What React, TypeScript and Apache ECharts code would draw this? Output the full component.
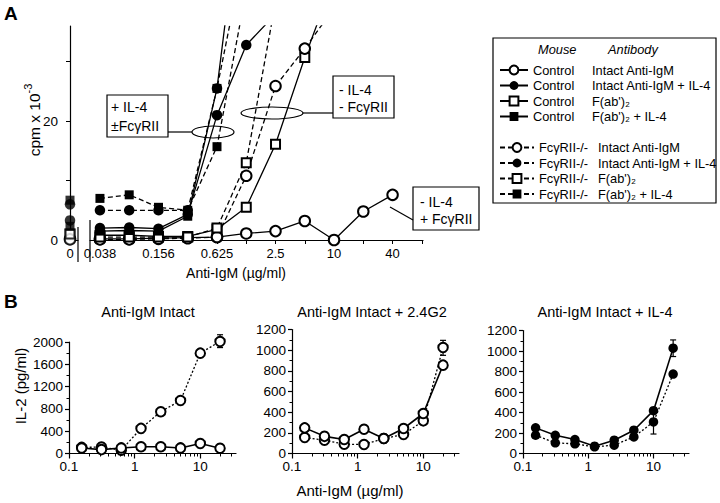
import { useEffect, useRef } from 'react';
import * as echarts from 'echarts';

const FONT = '"Liberation Sans", Arial, Helvetica, "DejaVu Sans", sans-serif';

// ---------------- Panel A data ----------------
const concA = ['0.039', '0.078', '0.156', '0.3125', '0.625', '1.25', '2.5', '5', '10', '20', '40'];
const concAIndex = [0, 1, 2, 3, 4, 5, 6, 7, 8, 9, 10];
const tickLabelsA = ['0.038', '', '0.156', '', '0.625', '', '2.5', '', '10', '', '40'];
const yTicksA = [0, 10, 20, 30];
const yLabelsA = [0, 20];

const aCtrlIntact = [0.2, 0.2, 0.3, 0.4, 0.5, 1.1, 1.5, 3.2, 0, 4.8, 7.6];
const aCtrlIntactIL4 = [2.0, 2.1, 1.9, 4.3, 21.0, 32.8, 38];
const aCtrlFab = [0.8, 0.8, 0.6, 0.6, 1.8, 5.5, 16.1, 30.7, 44];
const aCtrlFabIL4 = [1.5, 1.6, 1.5, 4.0, 25.5, 65];
const aKoIntact = [0.1, 0.1, 0.2, 0.3, 0.5, 10.8, 25.9, 32.2, 39];
const aKoIntactIL4 = [5.0, 5.0, 5.0, 5.0, 25.5, 50];
const aKoFab = [0.5, 0.5, 0.5, 0.5, 2.0, 13.0, 40];
const aKoFabIL4 = [7.0, 7.6, 5.5, 5.0, 15.7, 42];

// values at concentration 0 (same order as the series below)
const aZeroValues = [0.2, 3.3, 1.0, 2.3, 0.1, 6.0, 1.0, 6.7];

const aNames = [
  'Control|Intact Anti-IgM',
  'Control|Intact Anti-IgM + IL-4',
  "Control|F(ab')₂",
  "Control|F(ab')₂ + IL-4",
  'FcγRII-/-|Intact Anti-IgM',
  'FcγRII-/-|Intact Anti-IgM + IL-4',
  "FcγRII-/-|F(ab')₂",
  "FcγRII-/-|F(ab')₂ + IL-4",
];
const aValues = [aCtrlIntact, aCtrlIntactIL4, aCtrlFab, aCtrlFabIL4, aKoIntact, aKoIntactIL4, aKoFab, aKoFabIL4];
const aSymbols = ['emptyCircle', 'circle', 'emptyRect', 'rect', 'emptyCircle', 'circle', 'emptyRect', 'rect'];
const aDashed = [false, false, false, false, true, true, true, true];

// ---------------- Panel B data ----------------
const concB = [0.156, 0.3125, 0.625, 1.25, 2.5, 5, 10, 20];
const bMajorTicks = [0.1, 1, 10];
const bMinorTicks = [0.2, 0.3, 0.4, 0.5, 0.6, 0.7, 0.8, 0.9, 2, 3, 4, 5, 6, 7, 8, 9, 20, 30];

const b1Solid = [100, 70, 100, 120, 120, 100, 180, 95];
const b1Dotted = [110, 115, 60, 450, 750, 950, 1800, 2010];
const b1Err = [[20, 1900, 2130]];

const b2Solid = [248, 166, 135, 235, 145, 242, 387, 855];
const b2Dotted = [155, 129, 90, 87, 145, 184, 316, 1026];
const b2Err = [[20, 950, 1095]];

const b3Solid = [250, 178, 136, 71, 130, 227, 418, 1028];
const b3Dotted = [178, 104, 94, 65, 81, 162, 308, 775];
const b3Err = [[20, 946, 1108], [10, 190, 440]];

const bTitles = ['Anti-IgM Intact', 'Anti-IgM Intact + 2.4G2', 'Anti-IgM Intact + IL-4'];

export default function App() {
  const ref = useRef<HTMLDivElement>(null);

  useEffect(() => {
    if (!ref.current) return;
    const chart = echarts.init(ref.current, null, { renderer: 'svg' });

    const txt = (size: number) => ({ fontFamily: FONT, fontSize: size, color: '#000' });

    const grids = [
      { left: 66, top: 26, width: 12, height: 214 }, // A zero
      { left: 90, top: 26, width: 333, height: 214 }, // A main
      { left: 69, top: 342, width: 167, height: 111.5 }, // B1
      { left: 292, top: 329.5, width: 167, height: 124 }, // B2
      { left: 523, top: 330.5, width: 166, height: 123 }, // B3
    ];

    const axisLine = { show: true, lineStyle: { color: '#000', width: 1.2 } };

    const bX = (grid: number) => [
      {
        type: 'log', gridIndex: grid, min: 0.1, max: 35, position: 'bottom',
        axisLine, splitLine: { show: false },
        axisTick: { show: true, length: 5, customValues: bMajorTicks, lineStyle: { color: '#000', width: 1.2 } },
        axisLabel: { ...txt(13.5), margin: 6, customValues: bMajorTicks, formatter: (v: number) => String(v) },
      },
      {
        type: 'log', gridIndex: grid, min: 0.1, max: 35, position: 'bottom',
        axisLine: { show: false }, splitLine: { show: false },
        axisTick: { show: true, length: 3, customValues: bMinorTicks, lineStyle: { color: '#000', width: 1 } },
        axisLabel: { show: false },
      },
    ];

    const xAxis: any[] = [
      {
        type: 'value', gridIndex: 0, min: -1, max: 2, axisLine, splitLine: { show: false },
        axisTick: { show: false },
        axisLabel: { ...txt(13), margin: 7, customValues: [0], formatter: () => '0' },
      },
      {
        type: 'value', gridIndex: 1, min: -0.34, max: 11.04, axisLine, splitLine: { show: false },
        axisTick: { show: true, length: 4, customValues: [0, 1, 2, 3, 4, 5, 6, 7, 8, 9, 10, 11], lineStyle: { color: '#000', width: 1 } },
        axisLabel: {
          ...txt(13), margin: 7, customValues: [0, 2, 4, 6, 8, 10],
          formatter: (v: number) => tickLabelsA[Math.round(v)] || '',
        },
      },
      ...bX(2), ...bX(3), ...bX(4),
    ];

    const bY = (grid: number, max: number, interval: number) => ({
      type: 'value', gridIndex: grid, min: 0, max, interval,
      axisLine, splitLine: { show: false },
      axisTick: { show: true, length: 4, lineStyle: { color: '#000', width: 1.2 } },
      minorTick: { show: true, splitNumber: 2, length: 2.5, lineStyle: { color: '#000', width: 1 } },
      axisLabel: { ...txt(13.5), margin: 6, formatter: (v: number) => String(v) },
    });

    const yAxis: any[] = [
      {
        type: 'value', gridIndex: 0, min: 0, max: 36, axisLine, splitLine: { show: false },
        axisTick: { show: true, length: 4, customValues: yTicksA, lineStyle: { color: '#000', width: 1 } },
        axisLabel: { ...txt(13.5), margin: 8, customValues: yLabelsA, formatter: (v: number) => String(v) },
      },
      { type: 'value', gridIndex: 1, min: 0, max: 36, show: false },
      bY(2, 2000, 400),
      bY(3, 1200, 200),
      bY(4, 1200, 200),
    ];

    const series: any[] = [];
    aNames.forEach((name, k) => {
      const sym = aSymbols[k];
      const empty = sym.startsWith('empty');
      const isRect = sym.toLowerCase().includes('rect');
      series.push({
        type: 'line', name, xAxisIndex: 1, yAxisIndex: 1,
        data: aValues[k].map((v, i) => [concAIndex[i], v]),
        symbol: sym, symbolSize: isRect ? 9 : 10.5,
        lineStyle: { color: '#000', width: 1.3, type: aDashed[k] ? [5, 3] : 'solid' },
        itemStyle: { color: '#000', borderColor: '#000', borderWidth: empty ? 1.3 : 0 },
        z: empty ? 3 : 4,
      });
      series.push({
        type: 'scatter', name: name + ' (0)', xAxisIndex: 0, yAxisIndex: 0,
        data: [[0, aZeroValues[k]]],
        symbol: sym, symbolSize: isRect ? 9 : 10.5,
        itemStyle: { color: '#000', borderColor: '#000', borderWidth: empty ? 1.3 : 0 },
        z: empty ? 3 : 4,
      });
    });

    const bPanels = [
      { x: 2, y: 2, solid: b1Solid, dotted: b1Dotted, err: b1Err, sym: 'emptyCircle' },
      { x: 4, y: 3, solid: b2Solid, dotted: b2Dotted, err: b2Err, sym: 'emptyCircle' },
      { x: 6, y: 4, solid: b3Solid, dotted: b3Dotted, err: b3Err, sym: 'circle' },
    ];
    bPanels.forEach((p, n) => {
      const empty = p.sym.startsWith('empty');
      series.push({
        type: 'custom', name: 'err' + n, xAxisIndex: p.x, yAxisIndex: p.y, clip: false, z: 1,
        data: p.err, encode: { x: 0, y: [1, 2] },
        renderItem: (params: any, api: any) => {
          const x = api.value(0);
          const lo = api.coord([x, api.value(1)]);
          const hi = api.coord([x, api.value(2)]);
          const st = { stroke: '#000', lineWidth: 1.2 };
          return {
            type: 'group',
            children: [
              { type: 'line', shape: { x1: lo[0], y1: lo[1], x2: hi[0], y2: hi[1] }, style: st },
              { type: 'line', shape: { x1: hi[0] - 3, y1: hi[1], x2: hi[0] + 3, y2: hi[1] }, style: st },
              { type: 'line', shape: { x1: lo[0] - 3, y1: lo[1], x2: lo[0] + 3, y2: lo[1] }, style: st },
            ],
          };
        },
      });
      series.push({
        type: 'line', name: 'dotted' + n, xAxisIndex: p.x, yAxisIndex: p.y, clip: false,
        data: p.dotted.map((v, i) => [concB[i], v]),
        symbol: p.sym, symbolSize: 9.5,
        lineStyle: { color: '#000', width: 1.3, type: [2, 2] },
        itemStyle: { color: '#000', borderColor: '#000', borderWidth: empty ? 1.5 : 0 },
        z: 3,
      });
      series.push({
        type: 'line', name: 'solid' + n, xAxisIndex: p.x, yAxisIndex: p.y, clip: false,
        data: p.solid.map((v, i) => [concB[i], v]),
        symbol: p.sym, symbolSize: 9.5,
        lineStyle: { color: '#000', width: 1.6 },
        itemStyle: { color: '#000', borderColor: '#000', borderWidth: empty ? 1.5 : 0 },
        z: 4,
      });
    });

    const legendText = {
      ...txt(12.8), lineHeight: 15,
      rich: {
        m: { fontFamily: FONT, fontSize: 12.8, lineHeight: 15, width: 59, color: '#000' },
        a: { fontFamily: FONT, fontSize: 12.8, lineHeight: 15, color: '#000' },
      },
    };
    const fmt = (name: string) => {
      const [m, a] = name.split('|');
      return `{m|${m}}{a|${a}}`;
    };
    const legend = [
      {
        orient: 'vertical', left: 494, top: 57.5, itemWidth: 28, itemHeight: 11, itemGap: 0.5,
        selectedMode: false, data: aNames.slice(0, 4), formatter: fmt, textStyle: legendText,
      },
      {
        orient: 'vertical', left: 494, top: 135, itemWidth: 34, itemHeight: 11, itemGap: 0.5,
        selectedMode: false, data: aNames.slice(4), formatter: fmt, textStyle: legendText,
      },
    ];

    const T = (x: number, y: number, text: string, size = 13, extra: any = {}) => ({
      type: 'text', x, y, z: 100,
      style: { text, fontFamily: FONT, fontSize: size, fill: '#000000', align: 'left', verticalAlign: 'middle', ...extra },
    });
    const L = (x1: number, y1: number, x2: number, y2: number) => ({
      type: 'line', z: 100, shape: { x1, y1, x2, y2 }, style: { stroke: '#000', lineWidth: 1.2 },
    });
    const R = (x: number, y: number, width: number, height: number, fill = '#fff') => ({
      type: 'rect', z: 90, shape: { x, y, width, height }, style: { fill, stroke: '#000', lineWidth: 1.2 },
    });
    const E = (cx: number, cy: number, rx: number, ry: number) => ({
      type: 'ellipse', z: 100, shape: { cx, cy, rx, ry }, style: { fill: 'none', stroke: '#000', lineWidth: 1.2 },
    });

    const graphic: any[] = [
      T(4, 13, 'A', 19, { fontWeight: 'bold' }),
      T(4, 301, 'B', 19, { fontWeight: 'bold' }),
      L(78, 227, 78, 262),
      L(90, 220, 90, 262),
      {
        type: 'text', x: 32, y: 120, rotation: Math.PI / 2, z: 100,
        style: {
          text: '{a|cpm x 10}{b|-3}', align: 'center', verticalAlign: 'middle',
          rich: {
            a: { fontFamily: FONT, fontSize: 15.5, fill: '#000', verticalAlign: 'bottom', lineHeight: 20 },
            b: { fontFamily: FONT, fontSize: 11, fill: '#000', verticalAlign: 'top', lineHeight: 20, padding: [0, 0, 9, 0] },
          },
        },
      },
      T(236, 273, 'Anti-IgM (µg/ml)', 14, { align: 'center' }),
      R(107, 95, 61, 42),
      T(111, 107, '+ IL-4', 14),
      T(111, 126, '±FcγRII', 14),
      L(168, 132, 192, 132),
      E(213, 132, 21, 6),
      R(333, 76, 61, 42),
      T(339, 90, '- IL-4', 14),
      T(339, 107, '- FcγRII', 14),
      L(303, 113, 333, 113),
      E(272, 113, 31, 6),
      R(413, 187, 66, 43),
      T(420, 202, '- IL-4', 14),
      T(420, 219, '+ FcγRII', 14),
      L(390, 207, 413, 220),
      R(493, 38, 223, 165, 'none'),
      T(538, 49, 'Mouse', 12.8, { fontStyle: 'italic' }),
      T(608, 49, 'Antibody', 12.8, { fontStyle: 'italic' }),
      T(148, 312, bTitles[0], 14.5, { align: 'center' }),
      T(372, 312, bTitles[1], 14.5, { align: 'center' }),
      T(605, 312, bTitles[2], 14.5, { align: 'center' }),
      {
        type: 'text', x: 20, y: 386, rotation: Math.PI / 2, z: 100,
        style: { text: 'IL-2 (pg/ml)', fontFamily: FONT, fontSize: 15, fill: '#000', align: 'center', verticalAlign: 'middle' },
      },
      T(350, 490, 'Anti-IgM (µg/ml)', 15, { align: 'center' }),
    ];

    chart.setOption({
      animation: false,
      backgroundColor: '#fff',
      textStyle: { fontFamily: FONT },
      grid: grids,
      xAxis,
      yAxis,
      series,
      legend,
      graphic,
    });

    return () => chart.dispose();
  }, []);

  return (
    <div
      ref={ref}
      style={{ position: 'absolute', left: 0, top: 0, width: 720, height: 503, background: '#fff' }}
    />
  );
}
